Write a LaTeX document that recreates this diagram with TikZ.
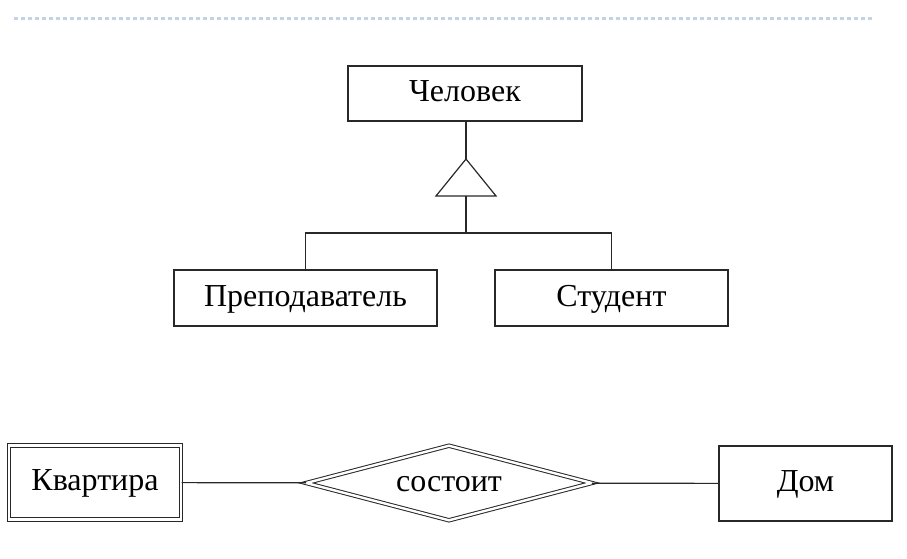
\documentclass[tikz,border=0pt]{standalone}
\usepackage{fontspec}
\setmainfont{Liberation Serif}
\usetikzlibrary{shapes.geometric}
\definecolor{rulecol}{RGB}{196,211,228}
\definecolor{linecol}{RGB}{40,40,40}

\begin{document}
\begin{tikzpicture}[x=1pt, y=1pt]

\tikzstyle{entity}=[rectangle, draw=linecol, line width=1.2pt, inner sep=0pt, text height=22pt, text depth=6pt, font=\fontsize{32}{35}\selectfont]
\tikzstyle{weak}=[entity, double, double distance=2.4pt, line width=1pt]
\tikzstyle{relation}=[diamond, shape aspect=3.8, draw=linecol, double, double distance=2.4pt, line width=1pt, inner sep=0pt, text height=22pt, text depth=6pt, font=\fontsize{32}{35}\selectfont]
\tikzstyle{link}=[draw=linecol, line width=1.2pt]

\useasboundingbox (0,0) rectangle (907,-559);

\draw [rulecol, line width=3pt, dash pattern=on 4pt off 3pt] (14,-19) -- (873,-19);

\node (chel) [entity, minimum width=234pt, minimum height=55pt] at (465,-93.5) {Человек};
\node (prep) [entity, minimum width=263pt, minimum height=56pt] at (305.5,-298) {Преподаватель};
\node (stud) [entity, minimum width=233pt, minimum height=56pt] at (611.5,-298) {Студент};

\coordinate (apex) at (466,-159);
\coordinate (base) at (466,-196);
\coordinate (fork) at (466,-233);

\draw [link] (chel.south -| apex) -- (apex);
\draw [link] (apex) -- ++(-30,-37) -- ++(60,0) -- cycle;
\draw [link] (base) -- (fork);
\draw [link] (prep.north) |- (fork) -| (stud.north);

\node (kvar) [weak, minimum width=172pt, minimum height=74pt] at (95,-482.5) {Квартира};
\node (sost) [relation, minimum width=286pt, minimum height=75pt] at (449,-483) {состоит};
\node (dom) [entity, minimum width=173pt, minimum height=75pt] at (805.5,-483.5) {Дом};

\draw [link] (kvar) -- (sost);
\draw [link] (sost) -- (dom);

\end{tikzpicture}
\end{document}
